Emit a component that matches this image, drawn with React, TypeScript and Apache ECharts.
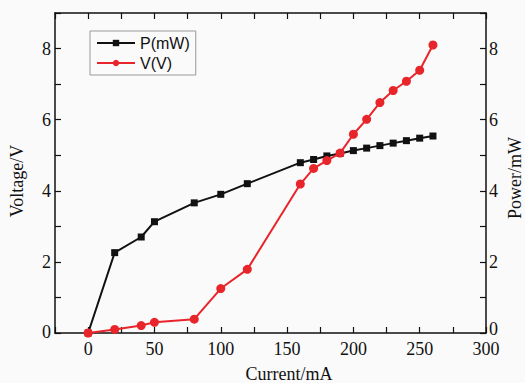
import React, { useEffect, useRef } from "react";
import * as echarts from "echarts";

const currents = [0, 20, 40, 50, 80, 100, 120, 160, 170, 180, 190, 200, 210, 220, 230, 240, 250, 260];
const powerMW = [0, 2.26, 2.7, 3.13, 3.66, 3.9, 4.2, 4.79, 4.88, 4.98, 5.05, 5.13, 5.2, 5.27, 5.34, 5.41, 5.48, 5.54];
const voltageV = [0, 0.1, 0.21, 0.3, 0.39, 1.25, 1.79, 4.19, 4.63, 4.85, 5.06, 5.59, 6.01, 6.48, 6.82, 7.08, 7.39, 8.1];
const xTickLabels = [0, 50, 100, 150, 200, 250, 300];
const yTickLabels = [0, 2, 4, 6, 8];
const seriesNames = ["P(mW)", "V(V)"];
const xAxisName = "Current/mA";
const leftAxisName = "Voltage/V";
const rightAxisName = "Power/mW";

const serif = "Liberation Serif";
const sans = "Liberation Sans";
const ink = "#111";

export default function App() {
  const ref = useRef<HTMLDivElement>(null);
  useEffect(() => {
    document.body.style.margin = "0";
    const chart = echarts.init(ref.current!, null, { renderer: "svg" });
    const axisLine = { show: true, onZero: false, lineStyle: { color: ink, width: 1.5 } };
    const tick = { show: true, inside: true, length: 6, lineStyle: { color: ink, width: 1.2 } };
    const xCommon = {
      type: "value" as const,
      min: -25,
      max: 300,
      interval: 25,
      splitLine: { show: false },
      axisLine,
      axisTick: tick,
      axisLabel: { show: false },
    };
    const yCommon = {
      type: "value" as const,
      min: 0,
      max: 9,
      interval: 1,
      splitLine: { show: false },
      axisLine,
      axisTick: tick,
      axisLabel: { show: false },
    };
    chart.setOption({
      animation: false,
      backgroundColor: "#fafafa",
      grid: { left: 55, right: 39, top: 13, bottom: 50, containLabel: false },
      legend: {
        orient: "vertical",
        left: 90,
        top: 31,
        padding: [4, 6, 4, 6],
        itemGap: 4,
        itemWidth: 38,
        itemHeight: 8,
        borderColor: "#999",
        borderWidth: 1,
        textStyle: { fontFamily: sans, fontSize: 16, color: ink },
        data: seriesNames,
      },
      xAxis: [
        { ...xCommon, position: "bottom" },
        { ...xCommon, position: "top" },
      ],
      yAxis: [
        { ...yCommon, position: "left" },
        { ...yCommon, position: "right" },
      ],
      series: [
        {
          name: seriesNames[0],
          type: "line",
          xAxisIndex: 0,
          yAxisIndex: 1,
          data: currents.map((c, i) => [c, powerMW[i]]),
          symbol: "rect",
          symbolSize: 7,
          lineStyle: { color: ink, width: 2 },
          itemStyle: { color: ink },
          z: 3,
        },
        {
          name: seriesNames[1],
          type: "line",
          xAxisIndex: 0,
          yAxisIndex: 0,
          data: currents.map((c, i) => [c, voltageV[i]]),
          symbol: "circle",
          symbolSize: 9,
          lineStyle: { color: "#e8252b", width: 2 },
          itemStyle: { color: "#e8252b" },
          z: 4,
        },
      ],
    });

    const font = `18px ${serif}`;
    const x0 = chart.convertToPixel({ xAxisIndex: 0 }, -25) as number;
    const x1 = chart.convertToPixel({ xAxisIndex: 0 }, 300) as number;
    const y0 = chart.convertToPixel({ yAxisIndex: 0 }, 0) as number;
    const labels: any[] = [];
    xTickLabels.forEach((v) => {
      labels.push({
        type: "text",
        x: chart.convertToPixel({ xAxisIndex: 0 }, v) as number,
        y: y0 + 16,
        style: { text: String(v), font, fill: ink, textAlign: "center", textVerticalAlign: "middle" },
      });
    });
    yTickLabels.forEach((v) => {
      const y = chart.convertToPixel({ yAxisIndex: 0 }, v) as number;
      labels.push({
        type: "text",
        x: x0 - 4,
        y: v === 0 ? y - 1 : y,
        style: { text: String(v), font, fill: ink, textAlign: "right", textVerticalAlign: "middle" },
      });
      labels.push({
        type: "text",
        x: x1 + 3,
        y: v === 0 ? y - 4 : y,
        style: { text: String(v), font, fill: ink, textAlign: "left", textVerticalAlign: "middle" },
      });
    });

    chart.setOption({
      graphic: [
        {
          type: "text",
          x: 289,
          y: 374,
          style: { text: xAxisName, font, fill: ink, textAlign: "center", textVerticalAlign: "middle" },
        },
        {
          type: "text",
          x: 17,
          y: 181,
          rotation: Math.PI / 2,
          style: { text: leftAxisName, font, fill: ink, textAlign: "center", textVerticalAlign: "middle" },
        },
        {
          type: "text",
          x: 515,
          y: 178,
          rotation: Math.PI / 2,
          style: { text: rightAxisName, font, fill: ink, textAlign: "center", textVerticalAlign: "middle" },
        },
        ...labels,
      ],
    });
    return () => chart.dispose();
  }, []);
  return <div ref={ref} style={{ width: 525, height: 383 }} />;
}
